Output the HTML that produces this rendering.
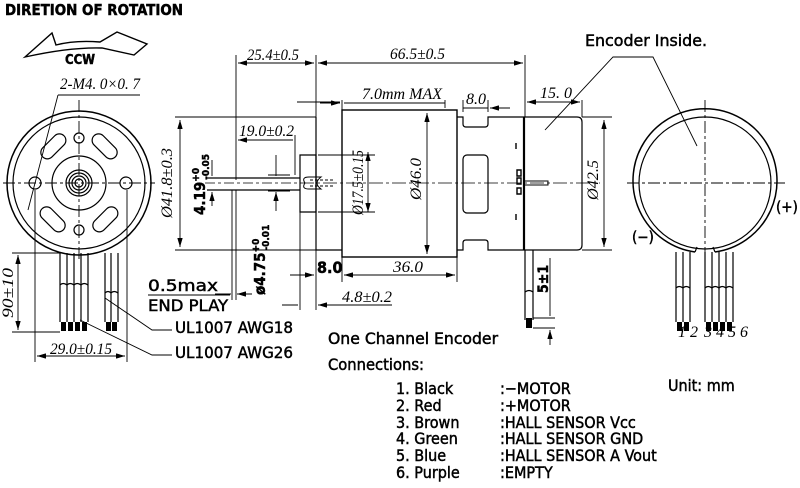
<!DOCTYPE html>
<html><head><meta charset="utf-8"><style>
html,body{margin:0;padding:0;background:#fff}
svg{display:block}
.t{font-family:"DejaVu Sans Condensed","Liberation Sans Narrow","Liberation Sans",sans-serif;fill:#000;stroke:#000;stroke-width:0.45}
.d{font-family:"Liberation Serif",serif;font-style:italic;fill:#000;font-size:16px}
</style></head><body>
<svg width="800" height="488" viewBox="0 0 800 488" xmlns="http://www.w3.org/2000/svg">
<defs>
<marker id="a" viewBox="0 0 10 6" refX="10" refY="3" markerWidth="10" markerHeight="6" orient="auto-start-reverse"><path d="M0,0 L10,3 L0,6 z" fill="#000"/></marker>
</defs>
<g stroke="#000" fill="none" stroke-width="1.2">
<path d="M25,57 L52,33 L56,45 Q75,40 100,42 L117,32 L147,44 L134,55 L102,48 Q70,47 25,57 z" stroke-width="1.4"/>
<circle cx="79" cy="183" r="72" stroke-width="1.5"/>
<circle cx="79" cy="183" r="66"/>
<circle cx="79" cy="183" r="27"/>
<circle cx="79" cy="183" r="13"/><circle cx="79" cy="183" r="10"/><circle cx="79" cy="183" r="7"/><circle cx="79" cy="183" r="4"/>
<circle cx="35" cy="183" r="6"/><circle cx="126" cy="183" r="6"/>
<circle cx="79" cy="138" r="5"/><circle cx="79" cy="230" r="5"/>
<rect x="38" y="140" width="30" height="13" rx="6.5" transform="rotate(-45 53 146)"/>
<rect x="90" y="140" width="30" height="13" rx="6.5" transform="rotate(45 105 146)"/>
<rect x="38" y="213" width="30" height="13" rx="6.5" transform="rotate(45 53 219)"/>
<rect x="90" y="213" width="30" height="13" rx="6.5" transform="rotate(-45 105 219)"/>
<path d="M3,183 H155 M79,100 V262" stroke-dasharray="12,3,3,3" stroke-width="0.9"/>
<path d="M60,253 V322 M67,253 V322 M74,253 V322 M81,253 V322 M88,253 V322 M105,253 V322 M111,253 V322 M118,253 V322"/>
<path d="M60,285 Q63,282 67,285 Q70,282 74,285 Q77,282 81,285 Q84,282 88,285 M105,293 Q108,290 111,293 Q114,290 118,293"/>
<g fill="#000" stroke="none"><rect x="61" y="322" width="5" height="9"/><rect x="68" y="322" width="5" height="9"/><rect x="75" y="322" width="5" height="9"/><rect x="82" y="322" width="5" height="9"/><rect x="106" y="322" width="5" height="9"/><rect x="112" y="322" width="5" height="9"/></g>
<path d="M12,253 H62 M12,332 H60" stroke-width="0.9"/>
<path d="M18,255 V330" marker-start="url(#a)" marker-end="url(#a)" stroke-width="0.9"/>
<path d="M35,190 V362 M127,190 V362" stroke-width="0.9"/>
<path d="M37,356 H125" marker-start="url(#a)" marker-end="url(#a)" stroke-width="0.9"/>
<path d="M58,95 H140 M58,95 L28,210" stroke-width="0.9"/>
<path d="M105,298 L152,330 H172 M80,320 L152,355 H172" stroke-width="0.9"/>
<path d="M175,117 H316 M175,250 H316" stroke-width="0.9"/>
<path d="M180,120 V247" marker-start="url(#a)" marker-end="url(#a)" stroke-width="0.9"/>
<path d="M207,178 H300 M207,190 H300" />
<path d="M205,183 H300" stroke-dasharray="10,3,3,3" stroke-width="0.8"/>
<path d="M212,160 V176 M212,206 V192" marker-end="url(#a)" stroke-width="0.9"/>
<path d="M276,155 V176 M276,211 V192" marker-end="url(#a)" stroke-width="0.9"/>
<path d="M268,175 H290 M268,191 H290" stroke-width="0.9"/>
<path d="M232,190 V300 M236,190 V300" stroke-width="0.9"/>
<path d="M236,55 V180 M316,55 V117 M525,55 V117" stroke-width="0.9"/>
<path d="M238,63 H314" marker-start="url(#a)" marker-end="url(#a)" stroke-width="0.9"/>
<path d="M318,63 H523" marker-start="url(#a)" marker-end="url(#a)" stroke-width="0.9"/>
<path d="M295,135 V175" stroke-width="0.9"/>
<path d="M238,140 H293" marker-start="url(#a)" stroke-width="0.9"/>
<path d="M148,295 H230" stroke-width="0.9"/>
<path d="M215,294 H231 M252,294 H237" marker-end="url(#a)" stroke-width="0.9"/>
<path d="M300,155 H316 V212 H300 z"/>
<path d="M305,183 q-4,-6 4,-6 h12 q-8,6 0,12 h-12 q-8,0 -4,-6" stroke-width="1"/>
<path d="M310,180 h24 M310,186 h24" stroke-dasharray="3,2" stroke-width="1"/>
<path d="M316,117 V250 H342"/>
<rect x="342" y="110" width="115" height="147" stroke-width="1.4"/>
<path d="M457,117 H463 V124 Q463,127 466,127 H485 Q488,127 488,124 V117 H525 M457,250 H463 V243 Q463,240 466,240 H485 Q488,240 488,243 V250 H525"/>
<rect x="463" y="155" width="25" height="58" rx="4"/>
<path d="M524,117 V250" stroke-width="2.2"/>
<path d="M525,117 H577 Q582,117 582,122 V245 Q582,250 577,250 H525"/>
<path d="M516,143 v6 M516,214 v6 M517,170 h4 v6 h-4 z M517,178 h4 v6 h-4 z M517,188 h4 v6 h-4 z" stroke-width="1.4"/>
<path d="M525,181 H548 V185 H525" stroke-width="1"/>
<path d="M300,183 H600" stroke-dasharray="14,3,3,3" stroke-width="0.8"/>
<path d="M342,100 V110 M445,100 V108 M463,100 V112 M488,100 V112 M582,100 V117" stroke-width="0.9"/>
<path d="M297,102 H340" stroke-width="0.9"/>
<path d="M320,103 H340" marker-end="url(#a)" stroke-width="0.9"/>
<path d="M344,103 H445" stroke-width="0.9"/>
<path d="M463,108 H488" stroke-width="0.9"/>
<path d="M510,108 H490" marker-end="url(#a)" stroke-width="0.9"/>
<path d="M527,102 H580" marker-start="url(#a)" marker-end="url(#a)" stroke-width="0.9"/>
<path d="M368,152 V212" marker-start="url(#a)" marker-end="url(#a)" stroke-width="0.9"/>
<path d="M318,155 H375 M318,212 H375" stroke-width="0.9"/>
<path d="M427,113 V254" marker-start="url(#a)" marker-end="url(#a)" stroke-width="0.9"/>
<path d="M582,117 H612 M582,250 H612" stroke-width="0.9"/>
<path d="M604,120 V247" marker-start="url(#a)" marker-end="url(#a)" stroke-width="0.9"/>
<path d="M342,257 V282 M457,257 V282 M316,250 V310 M300,212 V310" stroke-width="0.9"/>
<path d="M344,275 H455" marker-start="url(#a)" marker-end="url(#a)" stroke-width="0.9"/>
<path d="M290,275 H314" marker-end="url(#a)" stroke-width="0.9"/>
<path d="M282,305 H298 M335,305 H318" marker-end="url(#a)" stroke-width="0.9"/>
<path d="M318,305 H392" stroke-width="0.9"/>
<path d="M525,250 V320 M533,250 V320 M525,292 q4,-3 8,0"/>
<rect x="526" y="318" width="6" height="10" fill="#000" stroke="none"/>
<path d="M533,318 H555 M533,328 H555" stroke-width="0.9"/>
<path d="M550,258 V316 M550,345 V330" marker-end="url(#a)" stroke-width="0.9"/>
<path d="M695,252 A72,72 0 1 1 715,252" stroke-width="1.5"/>
<circle cx="705" cy="183" r="66"/>
<path d="M695,252 L697,247 M715,252 L713,247"/>
<path d="M627,183 H785 M705,100 V262" stroke-dasharray="12,3,3,3" stroke-width="0.9"/>
<path d="M676,252 V322 M683,252 V322 M690,252 V322 M705,252 V322 M712,252 V322 M719,252 V322 M726,252 V322 M733,252 V322"/>
<path d="M676,288 q3,-3 7,0 q3,-3 7,0 M705,288 q3,-3 7,0 q3,-3 7,0 q3,-3 7,0 q3,-3 7,0"/>
<g fill="#000" stroke="none"><rect x="677" y="322" width="5" height="9"/><rect x="684" y="322" width="5" height="9"/><rect x="706" y="322" width="5" height="9"/><rect x="713" y="322" width="5" height="9"/><rect x="720" y="322" width="5" height="9"/><rect x="727" y="322" width="5" height="9"/></g>
<path d="M545,130 L613,57 H653 L697,146" stroke-width="0.9"/>
</g>
<text class="t" x="5" y="15" font-size="15" font-weight="bold" textLength="178" lengthAdjust="spacingAndGlyphs">DIRETION OF ROTATION</text>
<text class="t" x="65" y="64" font-size="13" font-weight="bold">CCW</text>
<text class="d" x="60" y="89" font-size="15" textLength="80" lengthAdjust="spacingAndGlyphs">2-M4. 0×0. 7</text>
<text class="d" x="0" y="0" transform="translate(13,318) rotate(-90)" textLength="50" lengthAdjust="spacingAndGlyphs">90±10</text>
<text class="d" x="50" y="354" textLength="62" lengthAdjust="spacingAndGlyphs">29.0±0.15</text>
<text class="t" x="175" y="333" font-size="16" textLength="118" lengthAdjust="spacingAndGlyphs">UL1007 AWG18</text>
<text class="t" x="175" y="358" font-size="16" textLength="118" lengthAdjust="spacingAndGlyphs">UL1007 AWG26</text>
<text class="t" x="148" y="291" font-size="16" textLength="70" lengthAdjust="spacingAndGlyphs">0.5max</text>
<text class="t" x="148" y="311" font-size="16" textLength="80" lengthAdjust="spacingAndGlyphs">END PLAY</text>
<text class="d" x="247" y="60" textLength="52" lengthAdjust="spacingAndGlyphs">25.4±0.5</text>
<text class="d" x="390" y="59" textLength="55" lengthAdjust="spacingAndGlyphs">66.5±0.5</text>
<text class="d" x="362" y="99" textLength="80" lengthAdjust="spacingAndGlyphs">7.0mm MAX</text>
<text class="d" x="466" y="104">8.0</text>
<text class="d" x="540" y="98">15. 0</text>
<text class="d" x="239" y="136" textLength="55" lengthAdjust="spacingAndGlyphs">19.0±0.2</text>
<text class="d" x="393" y="272" textLength="30" lengthAdjust="spacingAndGlyphs">36.0</text>
<text class="d" x="342" y="302" textLength="50" lengthAdjust="spacingAndGlyphs">4.8±0.2</text>
<text class="t" x="317" y="273" font-size="16" font-weight="bold">8.0</text>
<text class="d" transform="translate(172,218) rotate(-90)" textLength="70" lengthAdjust="spacingAndGlyphs">Ø41.8±0.3</text>
<text class="d" transform="translate(363,215) rotate(-90)" textLength="65" lengthAdjust="spacingAndGlyphs">Ø17.5±0.15</text>
<text class="d" transform="translate(421,200) rotate(-90)" textLength="42" lengthAdjust="spacingAndGlyphs">Ø46.0</text>
<text class="d" transform="translate(598,200) rotate(-90)" textLength="40" lengthAdjust="spacingAndGlyphs">Ø42.5</text>
<text class="t" transform="translate(205,215) rotate(-90)" font-size="15" font-weight="bold">4.19<tspan font-size="10" dy="-6">+0</tspan><tspan font-size="10" dx="-12" dy="10">-0.05</tspan></text>
<text class="t" transform="translate(265,295) rotate(-90)" font-size="15" font-weight="bold">ø4.75<tspan font-size="10" dy="-6">+0</tspan><tspan font-size="10" dx="-12" dy="10">-0.01</tspan></text>
<text class="t" transform="translate(548,293) rotate(-90)" font-size="14" font-weight="bold">5±1</text>
<text class="t" x="585" y="46" font-size="16" textLength="122" lengthAdjust="spacingAndGlyphs">Encoder Inside.</text>
<text class="t" x="776" y="212" font-size="15">(+)</text>
<text class="t" x="632" y="242" font-size="15">(−)</text>
<text class="d" x="678" y="337" font-size="7">1 2</text>
<text class="d" x="704" y="337" font-size="7">3 4 5 6</text>
<text class="t" x="328" y="344" font-size="16" textLength="170" lengthAdjust="spacingAndGlyphs">One Channel Encoder</text>
<text class="t" x="328" y="370" font-size="16" textLength="96" lengthAdjust="spacingAndGlyphs">Connections:</text>
<g class="t" font-size="16">
<text x="396" y="394">1. Black</text><text x="500" y="394">:−MOTOR</text>
<text x="396" y="411">2. Red</text><text x="500" y="411">:+MOTOR</text>
<text x="396" y="428">3. Brown</text><text x="500" y="428">:HALL SENSOR Vcc</text>
<text x="396" y="444">4. Green</text><text x="500" y="444">:HALL SENSOR GND</text>
<text x="396" y="461">5. Blue</text><text x="500" y="461">:HALL SENSOR A Vout</text>
<text x="396" y="478">6. Purple</text><text x="500" y="478">:EMPTY</text>
<text x="668" y="391">Unit: mm</text>
</g>
</svg>
</body></html>
